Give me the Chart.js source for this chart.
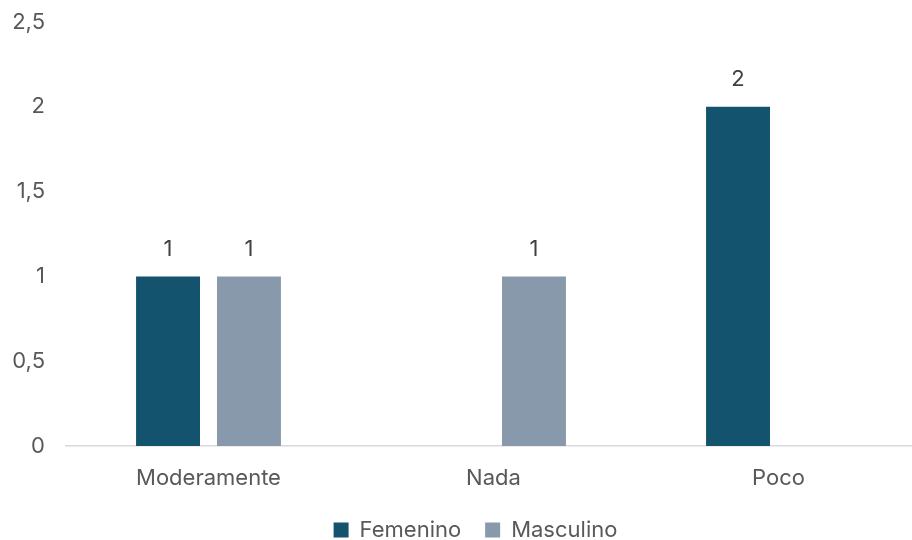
<!DOCTYPE html>
<html>
<head>
<meta charset="utf-8">
<script src="https://cdn.jsdelivr.net/npm/chart.js@4/dist/chart.umd.min.js"></script>
<style>
  html, body { margin: 0; padding: 0; background: #fff; overflow: hidden; }
  #wrap { width: 925px; height: 551px; }
</style>
</head>
<body>
<div id="wrap"><canvas id="chart"></canvas></div>
<script>
// data
const categories = ['Moderamente', 'Nada', 'Poco'];
const femenino = [1, null, 2];
const masculino = [1, 1, null];
const yTicks = [0, 0.5, 1, 1.5, 2, 2.5];

const FONT = "'Inter', 'Noto Sans', sans-serif";
const FS = 22;

// value labels above bars
const barLabels = {
    id: 'barLabels',
    afterDatasetsDraw(chart) {
        const ctx = chart.ctx;
        ctx.save();
        ctx.font = FS + 'px ' + FONT;
        ctx.fillStyle = '#404040';
        ctx.textAlign = 'center';
        ctx.textBaseline = 'middle';
        chart.data.datasets.forEach((ds, i) => {
            chart.getDatasetMeta(i).data.forEach((el, j) => {
                const v = ds.data[j];
                if (v == null) return;
                ctx.fillText(String(v).replace('.', ','), el.x, el.y - 27);
            });
        });
        ctx.restore();
    }
};

// legend sits a bit right of centre in the original
const legendShift = {
    id: 'legendShift',
    afterLayout(chart) {
        chart.legend.left += 30;
    }
};

new Chart(document.getElementById('chart'), {
    type: 'bar',
    data: {
        labels: categories,
        datasets: [
            { label: 'Femenino', data: femenino, backgroundColor: '#13536E',
              categoryPercentage: 0.568, barPercentage: 0.79 },
            { label: 'Masculino', data: masculino, backgroundColor: '#8799AB',
              categoryPercentage: 0.568, barPercentage: 0.79 }
        ]
    },
    options: {
        responsive: true,
        maintainAspectRatio: false,
        animation: false,
        layout: { padding: { top: 22, right: 4, left: 0, bottom: 0 } },
        plugins: {
            tooltip: { enabled: false },
            legend: {
                position: 'bottom',
                labels: {
                    font: { family: FONT, size: FS },
                    color: '#595959',
                    boxWidth: 15,
                    boxHeight: 15,
                    padding: 24
                }
            }
        },
        scales: {
            x: {
                grid: { display: false },
                border: { display: true, color: '#d9d9d9', width: 1.5 },
                ticks: { font: { family: FONT, size: FS }, color: '#595959', padding: 11 },
                afterFit: (s) => { s.height = 49; s.paddingLeft = 0; s.paddingRight = 0; }
            },
            y: {
                min: 0,
                max: 2.5,
                afterBuildTicks: (s) => { s.ticks = yTicks.map(v => ({ value: v })); },
                grid: { display: false, drawTicks: false },
                border: { display: false },
                ticks: {
                    font: { family: FONT, size: FS },
                    color: '#595959',
                    padding: 21,
                    callback: (v) => String(v).replace('.', ',')
                },
                afterFit: (s) => { s.width = 66; s.paddingTop = 0; s.paddingBottom = 0; }
            }
        }
    },
    plugins: [barLabels, legendShift]
});
</script>
</body>
</html>
